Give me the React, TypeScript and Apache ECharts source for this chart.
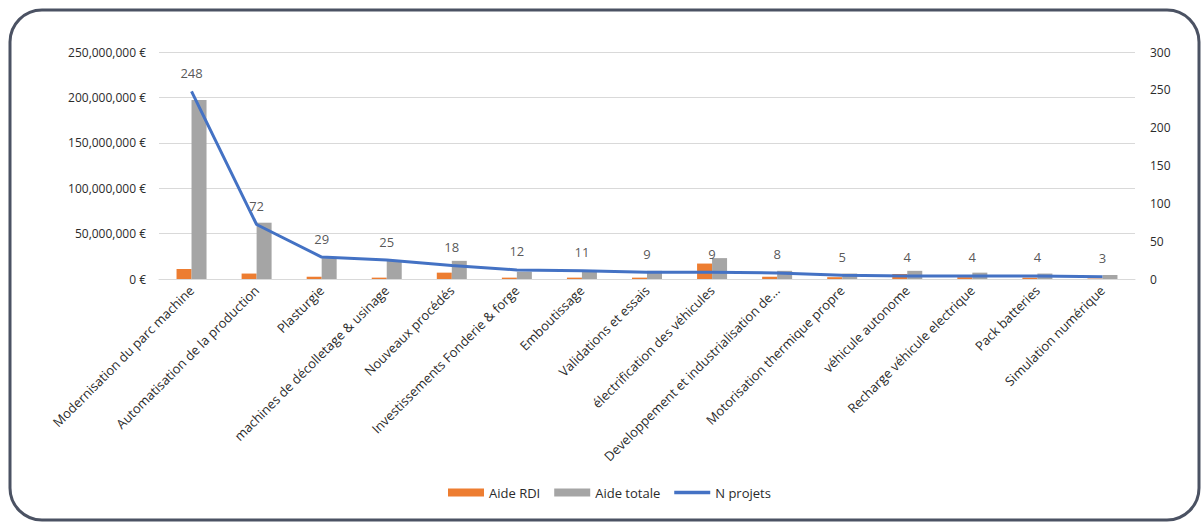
import React, { useEffect, useRef } from "react";
import * as echarts from "echarts";

const categories = [
  "Modernisation du parc machine",
  "Automatisation de la production",
  "Plasturgie",
  "machines de décolletage & usinage",
  "Nouveaux procédés",
  "Investissements Fonderie & forge",
  "Emboutissage",
  "Validations et essais",
  "électrification des véhicules",
  "Developpement et industrialisation de...",
  "Motorisation thermique propre",
  "véhicule autonome",
  "Recharge véhicule electrique",
  "Pack batteries",
  "Simulation numérique",
];

const aideRDI = [11e6, 6e6, 2.5e6, 1.5e6, 7e6, 1.5e6, 1.5e6, 1.5e6, 17e6, 2.5e6, 2e6, 5.5e6, 2e6, 1.5e6, 0.5e6];
const aideTotale = [197e6, 62e6, 23e6, 20e6, 20e6, 8e6, 8e6, 9e6, 23e6, 9e6, 6e6, 9e6, 7e6, 6e6, 4.4e6];
const nProjets = [248, 72, 29, 25, 18, 12, 11, 9, 9, 8, 5, 4, 4, 4, 3];

const FONT = "Open Sans";
const TXT = "#2b2b2b";

const fmtEuro = (v: number) =>
  v.toString().replace(/\B(?=(\d{3})+(?!\d))/g, ",") + " €";

export default function App() {
  const ref = useRef<HTMLDivElement>(null);
  useEffect(() => {
    if (!ref.current) return;
    const chart = echarts.init(ref.current, null, { renderer: "svg" });
    chart.setOption({
      animation: false,
      backgroundColor: "#ffffff",
      textStyle: { fontFamily: FONT },
      graphic: [
        {
          type: "rect",
          shape: { x: 10, y: 10, width: 1189, height: 510, r: 32 },
          style: { fill: "none", stroke: "#4b5263", lineWidth: 3 },
          silent: true,
          z: -1,
        },
      ],
      grid: { left: 159, right: 68, top: 52, bottom: 245, containLabel: false },
      legend: {
        left: 443,
        top: 481,
        itemWidth: 36,
        itemHeight: 8,
        itemGap: 14,
        textStyle: { fontFamily: FONT, fontSize: 13, color: TXT },
        data: [
          { name: "Aide RDI", icon: "rect" },
          { name: "Aide totale", icon: "rect" },
          {
            name: "N projets",
            icon: "path://M0,0 M0,2 L40,2 L40,6 L0,6 Z M40,8",
          },
        ],
      },
      xAxis: {
        type: "category",
        data: categories,
        axisLine: { lineStyle: { color: "#d9d9d9" } },
        axisTick: { show: false },
        axisLabel: {
          rotate: 45,
          interval: 0,
          margin: 9,
          fontFamily: FONT,
          fontSize: 13,
          color: TXT,
        },
      },
      yAxis: [
        {
          type: "value",
          min: 0,
          max: 250e6,
          interval: 50e6,
          axisLine: { show: false },
          axisTick: { show: false },
          splitLine: { lineStyle: { color: "#d9d9d9", width: 1 } },
          axisLabel: {
            formatter: fmtEuro,
            margin: 13,
            fontFamily: FONT,
            fontSize: 12,
            color: TXT,
          },
        },
        {
          type: "value",
          min: 0,
          max: 300,
          interval: 50,
          axisLine: { show: false },
          axisTick: { show: false },
          splitLine: { show: false },
          axisLabel: { margin: 15, fontFamily: FONT, fontSize: 12, color: TXT },
        },
      ],
      series: [
        {
          name: "Aide RDI",
          type: "bar",
          data: aideRDI,
          barWidth: 15,
          barGap: "0%",
          itemStyle: { color: "#ED7D31" },
        },
        {
          name: "Aide totale",
          type: "bar",
          data: aideTotale,
          barWidth: 15,
          barGap: "0%",
          itemStyle: { color: "#A5A5A5" },
        },
        {
          name: "N projets",
          type: "line",
          yAxisIndex: 1,
          data: nProjets,
          symbol: "none",
          lineStyle: { color: "#4472C4", width: 3 },
          itemStyle: { color: "#4472C4" },
          z: 3,
        },
        {
          name: "labels",
          type: "scatter",
          yAxisIndex: 1,
          data: nProjets,
          symbolSize: 0,
          silent: true,
          z: 4,
          label: {
            show: true,
            position: "top",
            distance: 12,
            fontFamily: FONT,
            fontSize: 13,
            color: TXT,
          },
        },
      ],
    });
    return () => chart.dispose();
  }, []);
  return (
    <div
      ref={ref}
      style={{ position: "fixed", left: 0, top: 0, width: 1203, height: 524 }}
    />
  );
}
